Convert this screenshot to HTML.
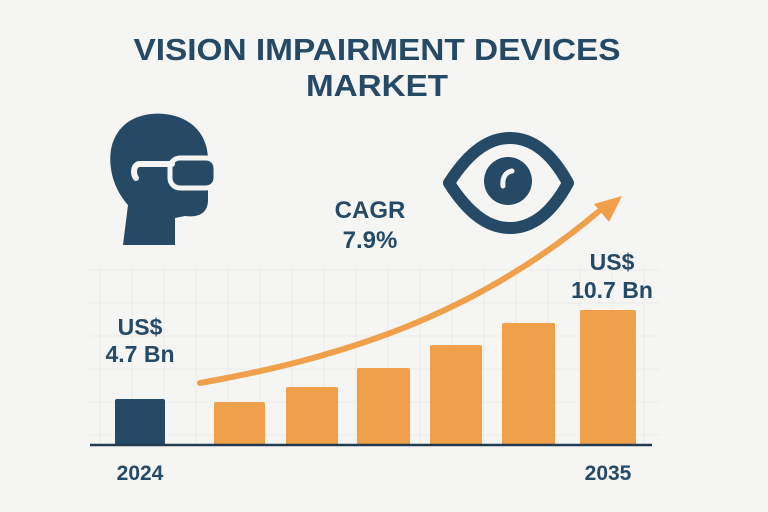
<!DOCTYPE html>
<html><head><meta charset="utf-8"><style>
html,body{margin:0;padding:0;background:#f5f5f3;}
svg{display:block;font-family:"Liberation Sans",sans-serif;}
</style></head><body>
<svg id="chart" width="768" height="512" viewBox="0 0 768 512">
<rect width="768" height="512" fill="#f5f5f3"/>
<g id="grid" stroke="#ebebe9" stroke-width="1"></g>
<text x="377" y="60" text-anchor="middle" font-size="31" font-weight="bold" fill="#264a66" textLength="487" lengthAdjust="spacingAndGlyphs">VISION IMPAIRMENT DEVICES</text>
<text x="377" y="96" text-anchor="middle" font-size="31" font-weight="bold" fill="#264a66" textLength="142" lengthAdjust="spacingAndGlyphs">MARKET</text>
<g fill="#264a66">
<path d="M175 245 L123 245 L128 205 C110 185 108 160 112 145 C120 118 145 112 165 114 C192 117 208 135 208 160 L208 170 L215 178 L208 185 L208 200 C208 212 200 218 185 216 L175 218 Z"/>
<rect x="170" y="158" width="46" height="30" rx="10" fill="#264a66" stroke="#f5f5f3" stroke-width="5"/>
<path d="M172 164 L140 164 C133 164 133 174 136 178" fill="none" stroke="#f5f5f3" stroke-width="6" stroke-linecap="round"/>
</g>
<g>
<path d="M449 183 C470 150 490 138 510 138 C530 138 550 150 568 183 C550 216 530 228 510 228 C490 228 470 216 449 183 Z" fill="#f5f5f3" stroke="#264a66" stroke-width="12" stroke-linejoin="round"/>
<circle cx="508" cy="181" r="24" fill="#264a66"/>
<path d="M503 186 C502 177 506 172 512 171" fill="none" stroke="#f5f5f3" stroke-width="5" stroke-linecap="round"/>
</g>
<text x="370" y="218" text-anchor="middle" font-size="24" font-weight="bold" fill="#264a66">CAGR</text>
<text x="370" y="248" text-anchor="middle" font-size="24" font-weight="bold" fill="#264a66">7.9%</text>
<text x="140" y="335" text-anchor="middle" font-size="23" font-weight="bold" fill="#264a66">US$</text>
<text x="140" y="362" text-anchor="middle" font-size="23" font-weight="bold" fill="#264a66">4.7 Bn</text>
<text x="612" y="270" text-anchor="middle" font-size="23" font-weight="bold" fill="#264a66">US$</text>
<text x="612" y="298" text-anchor="middle" font-size="23" font-weight="bold" fill="#264a66">10.7 Bn</text>
<g id="bars"></g>
<line x1="90" y1="445" x2="652" y2="445" stroke="#223a4e" stroke-width="2.5"/>
<path d="M200 383 C330 360 470 320 598 212" fill="none" stroke="#f0a04b" stroke-width="6" stroke-linecap="round"/>
<polygon points="622,196 594,204 609,222" fill="#f0a04b"/>
<text x="140" y="480" text-anchor="middle" font-size="21" font-weight="bold" fill="#264a66">2024</text>
<text x="608" y="480" text-anchor="middle" font-size="21" font-weight="bold" fill="#264a66">2035</text>
</svg>
<script>
const categories = ["2024","2025","2027","2029","2031","2033","2035"];
const values = [4.6, 4.3, 5.8, 7.7, 10.0, 12.2, 13.5];
const barX = [115, 214, 286, 357, 430, 502, 580];
const barW = [50, 51, 52, 53, 52, 53, 56];
const baseY = 445, pxPerUnit = 10;
function yScale(v){ return baseY - v * pxPerUnit; }
const ns = "http://www.w3.org/2000/svg";
const g = document.getElementById('bars');
categories.forEach((c, i) => {
  const r = document.createElementNS(ns, 'rect');
  
  
  const y = yScale(values[i]);
  r.setAttribute('x', barX[i]);
  r.setAttribute('y', y);
  r.setAttribute('width', barW[i]);
  r.setAttribute('height', baseY - y);
  r.setAttribute('rx', 2);
  r.setAttribute('fill', i === 0 ? '#264a66' : '#f0a04b');
  g.appendChild(r);
});
const grid = document.getElementById('grid');
for (let x = 100; x <= 660; x += 32) {
  const l = document.createElementNS(ns, 'line');
  
  
  l.setAttribute('x1', x); l.setAttribute('x2', x);
  l.setAttribute('y1', 265); l.setAttribute('y2', 445);
  grid.appendChild(l);
}
for (let y = 270; y <= 440; y += 33) {
  const l = document.createElementNS(ns, 'line');
  
  
  l.setAttribute('x1', 90); l.setAttribute('x2', 660);
  l.setAttribute('y1', y); l.setAttribute('y2', y);
  grid.appendChild(l);
}
</script>
</body></html>
